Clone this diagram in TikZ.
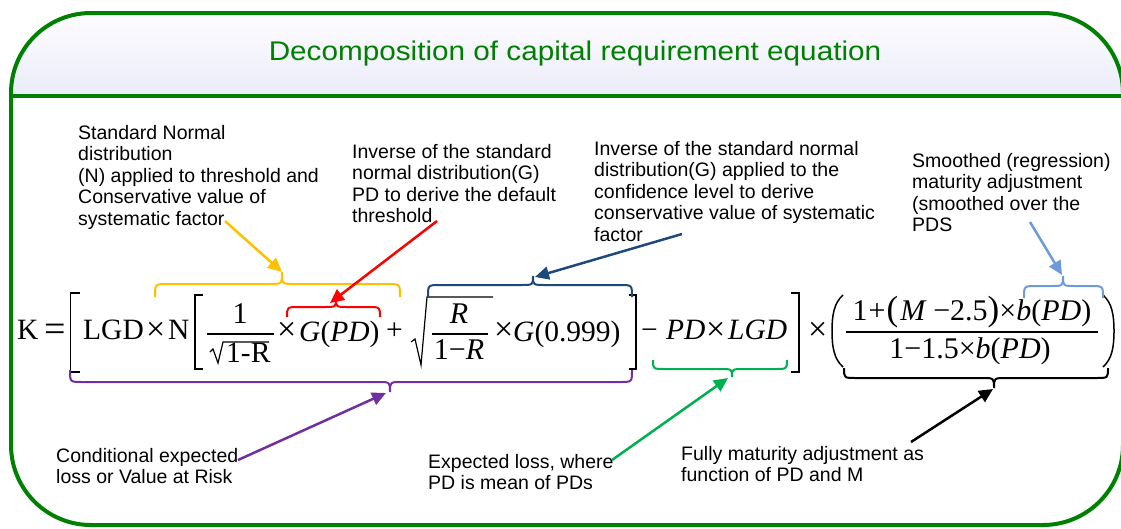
\documentclass[tikz,border=0pt]{standalone}
\usepackage{fontspec}
\setmainfont{Liberation Sans}
\newfontfamily\tms{Liberation Serif}
\newfontfamily\titlefont[FakeStretch=1.1]{Liberation Sans}
\usetikzlibrary{arrows.meta}
\definecolor{frameG}{RGB}{0,128,0}
\definecolor{yel}{RGB}{255,192,0}
\definecolor{redc}{RGB}{255,0,0}
\definecolor{navy}{RGB}{31,73,125}
\definecolor{lblue}{RGB}{110,155,215}
\definecolor{purp}{RGB}{112,48,160}
\definecolor{grn}{RGB}{0,176,80}
\definecolor{hdr}{RGB}{236,236,250}
\tikzset{
  lbl/.style={anchor=north west, inner sep=0pt, align=left, font=\fontsize{19.5}{21.5}\selectfont},
  eq/.style={anchor=base west, inner sep=0pt, font=\tms\fontsize{29.5}{30}\selectfont},
  eqsym/.style={anchor=base west, inner sep=0pt, font=\tms\fontsize{34}{34}\selectfont},
  eqc/.style={anchor=base, inner sep=0pt, font=\tms\fontsize{30}{30}\selectfont},
  eqline/.style={line width=1.2pt},
  brc/.style={line width=2pt},
  arr/.style={line width=2.5pt, -{Triangle[length=14pt,width=13pt]}},
}
\newcommand\cbr[7]{\draw[brc,#1] (#2,#5) .. controls (#2,#6) .. ({#2+12},#6) -- ({#4-12},#6) .. controls (#4,#6) .. (#4,#7) .. controls (#4,#6) .. ({#4+12},#6) -- ({#3-12},#6) .. controls (#3,#6) .. (#3,#5);}
\begin{document}
\begin{tikzpicture}[x=1pt,y=-1pt]
\useasboundingbox (0,0) rectangle (1121,528);
% header
\begin{scope}
  \clip[rounded corners=80pt] (11,13) rectangle (1123,525);
  \shade[top color=white, bottom color=hdr] (0,0) rectangle (1125,96);
\end{scope}
\draw[frameG, line width=4pt] (11,96) -- (1123,96);
\draw[frameG, line width=4pt, rounded corners=80pt] (11,13) rectangle (1123,525);
\node[text=frameG, font=\titlefont\fontsize{27}{27}\selectfont] (title) at (575,54) {Decomposition of capital requirement equation};

% equation
\node[eq] (eK) at (17,339) {K};
\node[eqsym, font=\tms\fontsize{38}{38}\selectfont] (eEq) at (44,341.5) {=};
\draw[eqline] (80,293) -- (70.5,293) -- (70.5,372) -- (80,372);
\node[eq] (eLGD) at (83,339) {LGD};
\node[eqsym] (eX1) at (146,340.5) {×};
\node[eq] (eN) at (168,339) {N};
\draw[eqline] (203,295) -- (195,295) -- (195,369) -- (203,369);
\node[eqc] (eOne) at (240,323) {1};
\draw[eqline] (207,334) -- (274,334);
\draw[eqline] (210,352) -- (213,349) -- (218,363) -- (223,342) -- (269,342);
\node[eq] (eOneR) at (226,362) {1-R};
\node[eqsym] (eX2) at (277,340.5) {×};
\node[eq] (eGPD) at (299,341) {{\itshape G}({\itshape PD\/})};
\node[eq] (ePlus) at (386,339) {+};
\draw[eqline] (411,342) -- (415,339) -- (421,365) -- (427,297) -- (493,297);
\node[eqc] (eR) at (459,323) {{\itshape R}};
\draw[eqline] (432,334) -- (488,334);
\node[eqc] (eOneMR) at (459,359) {1−{\itshape R}};
\node[eqsym] (eX3) at (494,340.5) {×};
\node[eq] (eG999) at (513,341) {{\itshape G}(0.999)};
\draw[eqline] (629,295) -- (636,295) -- (636,369) -- (629,369);
\node[eq] (eMinus) at (641,339) {−};
\node[eq] (ePD) at (666,339) {{\itshape PD}};
\node[eqsym] (eX4) at (706,340.5) {×};
\node[eq] (eLGD2) at (728,339) {{\itshape LGD}};
\draw[eqline] (791,293) -- (799,293) -- (799,372) -- (791,372);
\node[eqsym] (eX5) at (808,340.5) {×};
\draw[eqline, line width=1.5pt] (843,295) .. controls (834,303) and (832,315) .. (832,331) .. controls (832,347) and (834,359) .. (843,367);
\draw[eqline, line width=1.5pt] (1103,295) .. controls (1112,303) and (1114,315) .. (1114,331) .. controls (1114,347) and (1112,359) .. (1103,367);
\node[eqc] (eNum) at (972,320) {1\kern1pt+\kern1pt{\fontsize{35}{35}\selectfont(}\kern2pt{\itshape M}\kern8pt−2.5{\fontsize{35}{35}\selectfont)}×{\itshape b}({\itshape PD\/})};
\draw[eqline] (846,332) -- (1098,332);
\node[eqc] (eDen) at (970,358) {1−1.5×{\itshape b}({\itshape PD\/})};

% braces
\cbr{yel}{155}{400}{282}{297}{284}{272}
\cbr{redc}{287}{380}{336}{317}{307}{299}
\cbr{navy}{428}{632}{533}{297}{285}{276}
\cbr{lblue}{1024}{1103}{1063}{298}{286}{276}
\cbr{purp}{70}{632}{390}{370}{382}{392}
\cbr{grn}{653}{787}{732}{360}{369}{377}
\cbr{black}{844}{1108}{994}{368}{378}{388}

\coordinate (tY) at (282,272);
\coordinate (tR) at (330,303);
\coordinate (tN) at (535,277);
\coordinate (tL) at (1062,275);
\coordinate (tP) at (386,393);
\coordinate (tG) at (728,378);
\coordinate (tB) at (993,389);

% labels
\node[lbl] (l1) at (78,125) {Standard Normal\\distribution\\(N) applied to threshold and\\Conservative value of\\systematic factor};
\node[lbl] (l2) at (352,144) {Inverse of the standard\\normal distribution(G)\\PD to derive the default\\threshold};
\node[lbl] (l3) at (594,141) {Inverse of the standard normal\\distribution(G) applied to the\\confidence level to derive\\conservative value of systematic\\factor};
\node[lbl] (l4) at (912,153) {Smoothed (regression)\\maturity adjustment\\(smoothed over the\\PDS};
\node[lbl] (l5) at (56,448) {Conditional expected\\loss or Value at Risk};
\node[lbl] (l6) at (428,454) {Expected loss, where\\PD is mean of PDs};
\node[lbl] (l7) at (681,446) {Fully maturity adjustment as\\function of PD and M};

\coordinate (sY) at (225,221);
\coordinate (sR) at (437,221);
\coordinate (sN) at (682,234);
\coordinate (sL) at (1030,222);
\coordinate (sP) at (238,460);
\coordinate (sG) at (612,460);
\coordinate (sB) at (911,442);

\draw[arr, yel] (sY) -- (tY);
\draw[arr, redc] (sR) -- (tR);
\draw[arr, navy] (sN) -- (tN);
\draw[arr, lblue] (sL) -- (tL);
\draw[arr, purp] (sP) -- (tP);
\draw[arr, grn] (sG) -- (tG);
\draw[arr, black] (sB) -- (tB);
\end{tikzpicture}
\end{document}
